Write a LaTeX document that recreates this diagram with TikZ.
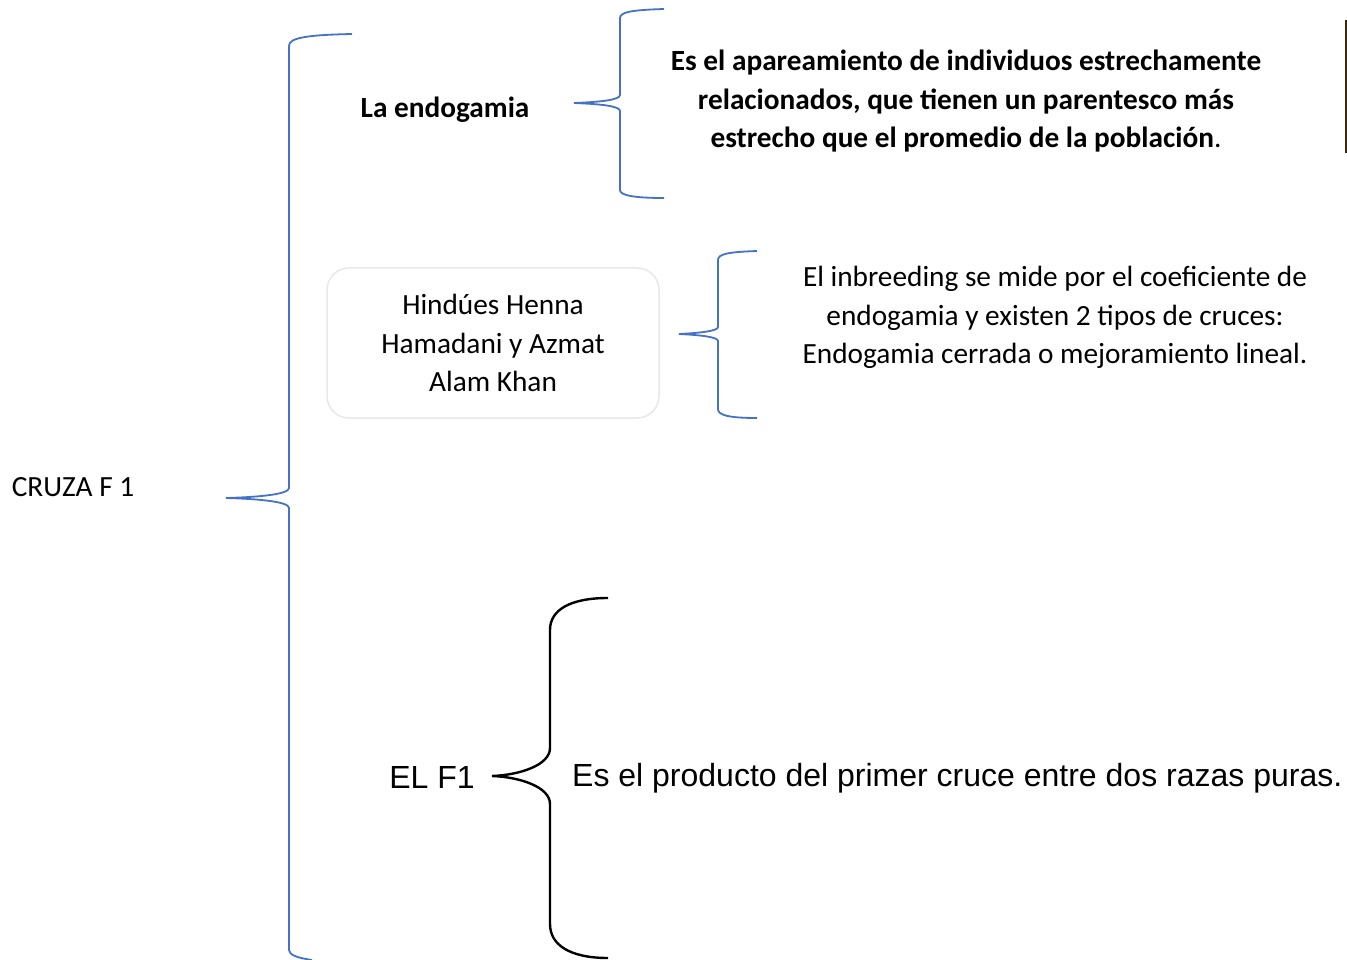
\documentclass[tikz,border=0pt]{standalone}
\usepackage{fontspec}
\setmainfont{Carlito}
\newfontfamily\arialfont{Liberation Sans}
\usepackage{tikz}
\usetikzlibrary{positioning}
\definecolor{wordblue}{RGB}{68,114,196}
\tikzset{
  llave/.style={draw=wordblue,line width=1.8pt},
  llavenegra/.style={draw=black,line width=2.4pt},
  texto/.style={font=\fontsize{29.3}{38.5}\selectfont,align=center,inner sep=0pt},
  caja/.style={draw=black!9,line width=1.5pt,rounded corners=22pt,minimum width=332pt,minimum height=150pt}
}

\begin{document}
\begin{tikzpicture}[x=1pt,y=-1pt]
\useasboundingbox (0,0) rectangle (1347,960);
\coordinate (p1) at (226,498);
\coordinate (p2) at (574,103);
\coordinate (p3) at (679,334);
\coordinate (p4) at (492,776);
\node[texto] (cruza) at (73,487) {CRUZA F 1};
\node[texto,font=\fontsize{29.3}{38.5}\selectfont\bfseries] (endo) at (445,110) {La endogamia};
\node[texto,font=\fontsize{29.3}{38.5}\selectfont] (defendo) at (966,101.5) {\textbf{Es el apareamiento de individuos estrechamente}\\ \textbf{relacionados, que tienen un parentesco más}\\ \textbf{estrecho que el promedio de la población}.};
\node[caja] (autores) at (493,343) {};
\node[texto] (nombres) at (autores) {Hindúes Henna\\ Hamadani y Azmat\\ Alam Khan};
\node[texto] (inbreeding) at (1055,317.5) {El inbreeding se mide por el coeficiente de\\ endogamia y existen 2 tipos de cruces:\\ Endogamia cerrada o mejoramiento lineal.};
\node[texto,font=\fontsize{32}{32}\arialfont] (elf) at (432,777) {EL F1};
\node[texto,font=\fontsize{32}{32}\arialfont,anchor=west] (producto) at (572,778) {Es el producto del primer cruce entre dos razas puras.};
\draw[llave] (352,34) .. controls (305,35) and (289,38) .. (289,46) -- (289,488) .. controls (289,494) and (262,497) .. (p1) .. controls (262,499) and (289,502) .. (289,508) -- (289,950) .. controls (289,955) and (298,958) .. (312,960);
\draw[llave] (664,9) .. controls (632,10) and (620,12) .. (620,18) -- (620,95) .. controls (620,100) and (600,102) .. (p2) .. controls (600,104) and (620,106) .. (620,111) -- (620,190) .. controls (620,195) and (632,198) .. (664,198);
\draw[llave] (757,251) .. controls (728,252) and (718,254) .. (718,260) -- (718,327) .. controls (718,331) and (700,333) .. (p3) .. controls (700,335) and (718,337) .. (718,341) -- (718,409) .. controls (718,415) and (728,418) .. (757,418);
\draw[llavenegra] (608,598) .. controls (570,598) and (550,610) .. (550,630) -- (550,748) .. controls (550,765) and (520,775) .. (p4) .. controls (520,777) and (550,787) .. (550,804) -- (550,924) .. controls (550,945) and (570,958) .. (608,958);
\draw[black!70!brown,line width=1.2pt] (1346,20) -- (1346,153);
\end{tikzpicture}
\end{document}
